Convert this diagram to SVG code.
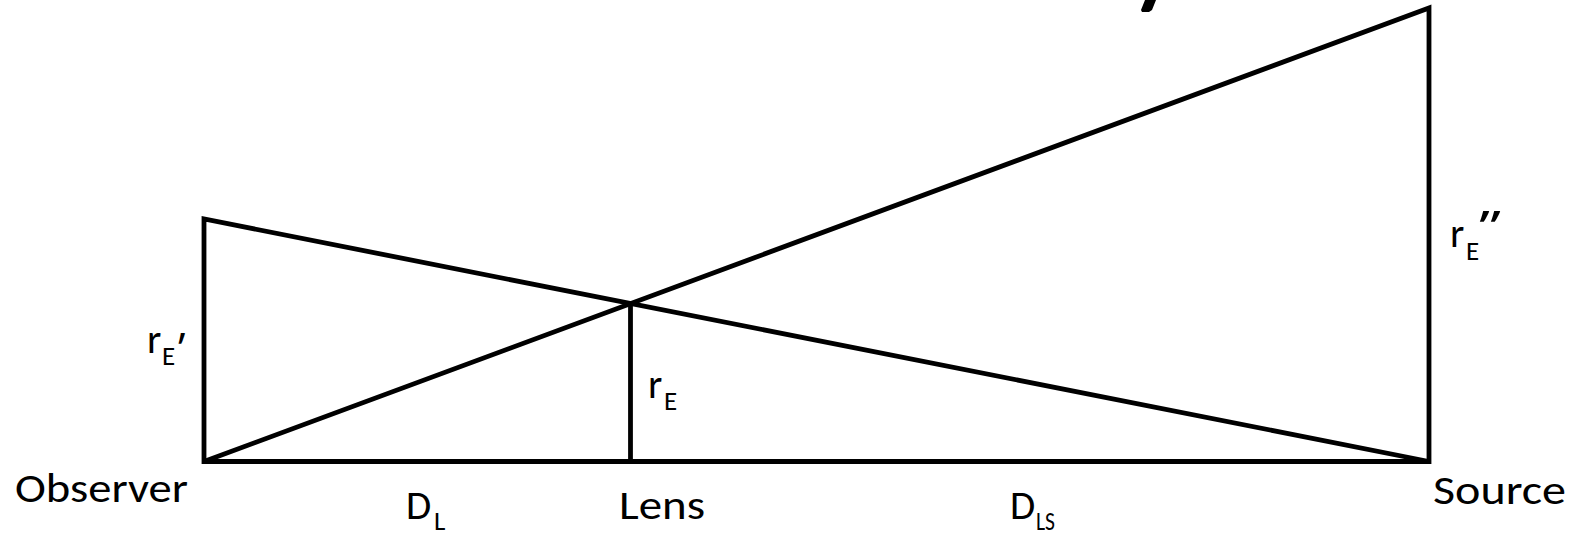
<svg xmlns="http://www.w3.org/2000/svg" width="1576" height="534" viewBox="0 0 1576 534">
<style>
.ln{fill:none;stroke:#000;stroke-width:4.8;stroke-linejoin:miter}
.t{font-family:Calibri,Carlito,Lato,"Open Sans",sans-serif;font-size:41px;fill:#000}
.s{font-size:27px}
.q{font-family:"Open Sans","Noto Sans",sans-serif;font-size:44px}
</style>
<rect width="1576" height="534" fill="#fff"/>
<polygon points="1145,0 1156,0 1152,10 1149,12 1142,12 1141,10" fill="#000"/>
<g id="connectors">
<polygon class="ln" points="204,219 204,461.5 1429,461.5"/>
<polygon class="ln" points="204,461.5 1429,461.5 1429,8"/>
<line class="ln" x1="630.5" y1="303" x2="630.5" y2="461.5"/>
</g>
<g id="observer"><text class="t" x="15" y="502" textLength="173" lengthAdjust="spacingAndGlyphs">Observer</text></g>
<g id="lens"><text class="t" x="619" y="519" textLength="86" lengthAdjust="spacingAndGlyphs">Lens</text></g>
<g id="source"><text class="t" x="1433" y="504" textLength="133" lengthAdjust="spacingAndGlyphs">Source</text></g>
<g id="dl"><text class="t" x="406" y="519">D</text><text class="t s" x="434" y="530">L</text></g>
<g id="dls"><text class="t" x="1010" y="519">D</text><text class="t s" x="1036" y="530" textLength="19" lengthAdjust="spacingAndGlyphs">LS</text></g>
<g id="re1"><text class="t" x="147" y="353">r</text><text class="t s" x="162" y="365">E</text><text class="t q" x="178" y="364">’</text></g>
<g id="re0"><text class="t" x="648" y="398">r</text><text class="t s" x="664" y="410">E</text></g>
<g id="re2"><text class="t" x="1450" y="247">r</text><text class="t s" x="1466" y="260">E</text><text class="t q" x="1479" y="242" textLength="22" lengthAdjust="spacingAndGlyphs">’’</text></g>
</svg>
